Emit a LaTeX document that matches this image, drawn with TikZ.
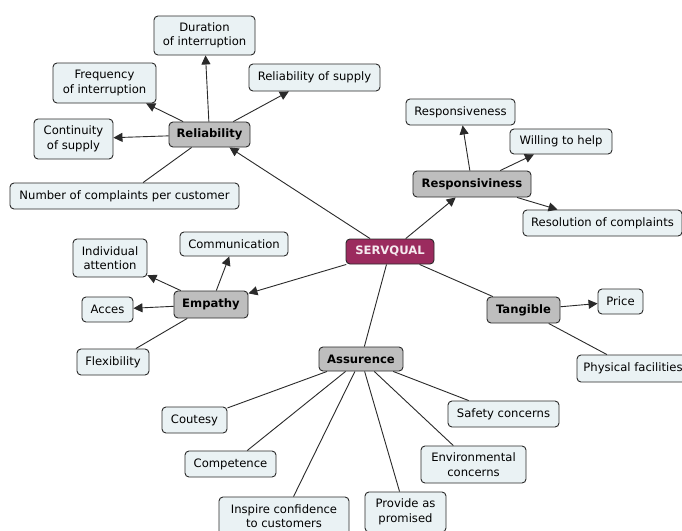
\documentclass[tikz,border=0pt]{standalone}
\usepackage{fontspec}
\setmainfont{DejaVu Sans}
\usetikzlibrary{arrows.meta}
\definecolor{leaffill}{HTML}{EAF2F4}
\definecolor{hubfill}{HTML}{BEBEBE}
\definecolor{rootfill}{HTML}{9B2B5E}
\definecolor{edgecol}{HTML}{2A2A2A}
\begin{document}
\begin{tikzpicture}[x=1pt,y=-1pt,
  box/.style={draw=edgecol, line width=0.9pt, rounded corners=4pt, align=center,
    inner sep=1pt, font=\fontsize{11.6}{14.5}\selectfont},
  leaf/.style={box, fill=leaffill},
  hub/.style={box, fill=hubfill, font=\fontsize{11.6}{14.5}\selectfont\bfseries},
  root/.style={box, fill=rootfill, text=white!90!rootfill, font=\fontsize{11.6}{14.5}\selectfont\bfseries},
  link/.style={draw=edgecol, line width=0.9pt},
  arrowlink/.style={link, -{Triangle[length=9pt,width=9pt]}}]
\useasboundingbox[fill=white] (0,0) rectangle (682,530);

% centre and dimension hubs
\node[root, minimum width=88pt, minimum height=25pt] (sq) at (390,251.5) {SERVQUAL};
\node[hub, minimum width=81pt, minimum height=25pt] (rel) at (209.5,134.5) {Reliability};
\node[hub, minimum width=118pt, minimum height=26pt] (resp) at (472,184) {Responsiviness};
\node[hub, minimum width=73pt, minimum height=26pt] (tang) at (523.5,310) {Tangible};
\node[hub, minimum width=74pt, minimum height=27pt] (emp) at (211,304.5) {Empathy};
\node[hub, minimum width=84pt, minimum height=24pt] (ass) at (361,359) {Assurence};

% reliability items
\node[leaf, minimum width=101pt, minimum height=39pt] (dur) at (204.5,35.5) {Duration\\of interruption};
\node[leaf, minimum width=103pt, minimum height=40pt] (freq) at (104.5,83) {Frequency\\of interruption};
\node[leaf, minimum width=131pt, minimum height=27pt] (rsup) at (314.5,77.5) {Reliability of supply};
\node[leaf, minimum width=79pt, minimum height=40pt] (cont) at (73.5,139) {Continuity\\of supply};
\node[leaf, minimum width=229pt, minimum height=26pt] (ncomp) at (124.5,196) {Number of complaints per customer};

% responsiveness items
\node[leaf, minimum width=109pt, minimum height=26pt] (rness) at (460.5,112) {Responsiveness};
\node[leaf, minimum width=102pt, minimum height=25pt] (will) at (561,141.5) {Willing to help};
\node[leaf, minimum width=159pt, minimum height=26pt] (resol) at (602.5,223) {Resolution of complaints};

% tangible items
\node[leaf, minimum width=45pt, minimum height=25pt] (price) at (620.5,301.5) {Price};
\node[leaf, minimum width=112pt, minimum height=27pt] (phys) at (633,368.5) {Physical facilities};

% empathy items
\node[leaf, minimum width=74pt, minimum height=38pt] (indiv) at (110,258) {Individual\\attention};
\node[leaf, minimum width=108pt, minimum height=24pt] (comm) at (234,244) {Communication};
\node[leaf, minimum width=51pt, minimum height=25pt] (acc) at (107.5,309.5) {Acces};
\node[leaf, minimum width=72pt, minimum height=26pt] (flex) at (113,362) {Flexibility};

% assurance items
\node[leaf, minimum width=65pt, minimum height=26pt] (cout) at (194.5,420) {Coutesy};
\node[leaf, minimum width=91pt, minimum height=26pt] (comp) at (230.5,464) {Competence};
\node[leaf, minimum width=130pt, minimum height=38pt] (insp) at (284,516) {Inspire confidence\\to customers};
\node[leaf, minimum width=81pt, minimum height=40pt] (prov) at (405.5,512) {Provide as\\promised};
\node[leaf, minimum width=105pt, minimum height=37pt] (env) at (473.5,464.5) {Environmental\\concerns};
\node[leaf, minimum width=111pt, minimum height=26pt] (safe) at (503.5,414) {Safety concerns};

% connectors from the centre
\draw[arrowlink] (sq) -- (rel);
\draw[arrowlink] (sq) -- (resp);
\draw[arrowlink] (sq) -- (emp);
\draw[link] (sq) -- (tang);
\draw[link] (sq) -- (ass);

% reliability
\draw[arrowlink] (rel) -- (dur);
\draw[arrowlink] (rel) -- (freq);
\draw[arrowlink] (rel) -- (rsup);
\draw[arrowlink] (rel) -- (cont);
\draw[link] (rel) -- (ncomp);

% responsiveness
\draw[arrowlink] (resp) -- (rness);
\draw[arrowlink] (resp) -- (will);
\draw[arrowlink] (resp) -- (resol);

% tangible
\draw[arrowlink] (tang) -- (price);
\draw[link] (tang) -- (phys);

% empathy
\draw[arrowlink] (emp) -- (indiv);
\draw[arrowlink] (emp) -- (comm);
\draw[arrowlink] (emp) -- (acc);
\draw[link] (emp) -- (flex);

% assurance
\draw[link] (ass) -- (cout);
\draw[link] (ass) -- (comp);
\draw[link] (ass) -- (insp);
\draw[link] (ass) -- (prov);
\draw[link] (ass) -- (env);
\draw[link] (ass) -- (safe);
\end{tikzpicture}
\end{document}
